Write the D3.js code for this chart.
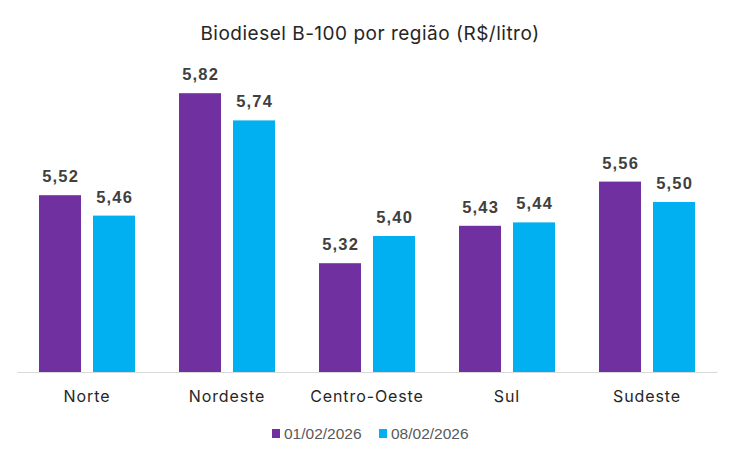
<!DOCTYPE html>
<html>
<head>
<meta charset="utf-8">
<script src="https://cdn.jsdelivr.net/npm/d3@7"></script>
<style>
  html, body { margin: 0; padding: 0; background: #fff; }
  svg { display: block; }
</style>
</head>
<body>
<div id="chart"></div>
<script>
// Biodiesel B-100 prices by region, two weekly readings
const regions = ['Norte', 'Nordeste', 'Centro-Oeste', 'Sul', 'Sudeste'];
const seriesNames = ['01/02/2026', '08/02/2026'];
const valuesWeek1 = [5.52, 5.82, 5.32, 5.43, 5.56];
const valuesWeek2 = [5.46, 5.74, 5.40, 5.44, 5.50];
const seriesColors = ['#7030A0', '#00B0F0'];

const width = 741;
const height = 459;
const geoFont = 'Inter, "Open Sans", sans-serif';
const plainFont = '"Liberation Sans", Arial, sans-serif';

const svg = d3.select('#chart')
  .append('svg')
  .attr('width', width)
  .attr('height', height);

// Title
svg.append('text')
  .attr('x', 370)
  .attr('y', 40)
  .attr('text-anchor', 'middle')
  .attr('font-family', geoFont)
  .attr('font-size', 19)
  .attr('letter-spacing', 0.5)
  .attr('fill', '#262626')
  .text('Biodiesel B-100 por região (R$/litro)');

// Scales
const x0 = d3.scaleBand()
  .domain(regions)
  .range([17, 717])
  .padding(0);

const x1 = d3.scaleBand()
  .domain(seriesNames)
  .range([22, 118])
  .paddingInner(0.222)
  .paddingOuter(0);

const y = d3.scaleLinear()
  .domain([5.0, 6.0])
  .range([372, 32]);

const rows = regions.map((r, i) => ({
  region: r,
  values: [
    { series: seriesNames[0], value: valuesWeek1[i], color: seriesColors[0] },
    { series: seriesNames[1], value: valuesWeek2[i], color: seriesColors[1] }
  ]
}));

const groups = svg.append('g')
  .selectAll('g')
  .data(rows)
  .enter()
  .append('g')
  .attr('transform', d => `translate(${x0(d.region)},0)`);

groups.selectAll('rect')
  .data(d => d.values)
  .enter()
  .append('rect')
  .attr('x', d => x1(d.series))
  .attr('y', d => y(d.value))
  .attr('width', x1.bandwidth())
  .attr('height', d => y(5.0) - y(d.value))
  .attr('fill', d => d.color);

// Data labels
const fmt = v => v.toFixed(2).replace('.', ',');
groups.selectAll('text.val')
  .data(d => d.values)
  .enter()
  .append('text')
  .attr('class', 'val')
  .attr('x', d => x1(d.series) + x1.bandwidth() / 2 + 0.6)
  .attr('y', d => y(d.value) - 13)
  .attr('text-anchor', 'middle')
  .attr('font-family', plainFont)
  .attr('font-weight', 'bold')
  .attr('font-size', 16.5)
  .attr('letter-spacing', 1.2)
  .attr('fill', '#404040')
  .text(d => fmt(d.value));

// Category axis
const xAxis = svg.append('g')
  .attr('transform', `translate(0,${y(5.0)})`)
  .call(d3.axisBottom(x0).tickSize(0).tickPadding(18.5));

xAxis.select('.domain')
  .attr('stroke', '#d9d9d9')
  .attr('stroke-width', 1.2);

xAxis.selectAll('text')
  .attr('font-family', geoFont)
  .attr('font-size', 16)
  .attr('letter-spacing', 0.9)
  .attr('fill', '#262626');

// Legend
const legend = svg.append('g');
const legendItems = legend.selectAll('g')
  .data(seriesNames)
  .enter()
  .append('g')
  .attr('transform', (d, i) => `translate(${272 + i * 107},0)`);

legendItems.append('rect')
  .attr('x', 0)
  .attr('y', 429)
  .attr('width', 8)
  .attr('height', 9)
  .attr('fill', (d, i) => seriesColors[i]);

legendItems.append('text')
  .attr('x', 12)
  .attr('y', 438.5)
  .attr('font-family', plainFont)
  .attr('font-size', 15.5)
  .attr('fill', '#595959')
  .text(d => d);
</script>
</body>
</html>
